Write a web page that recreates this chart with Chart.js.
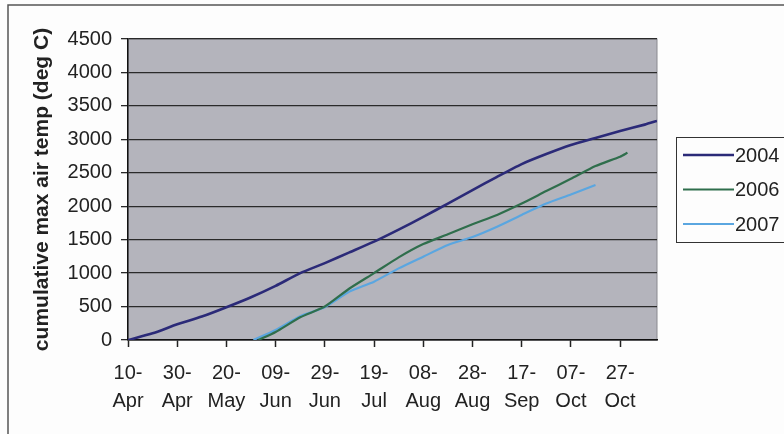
<!DOCTYPE html>
<html>
<head>
<meta charset="utf-8">
<script src="https://cdn.jsdelivr.net/npm/chart.js@4"></script>
<style>
  html, body { margin: 0; padding: 0; background: #fdfdfd; }
  #wrap { position: relative; width: 784px; height: 434px; }
</style>
</head>
<body>
<div id="wrap"><canvas id="gddChart" width="784" height="434"></canvas></div>
<script>
  // days counted from 10 April
  const tickLabels = [['10-', 'Apr'], ['30-', 'Apr'], ['20-', 'May'], ['09-', 'Jun'], ['29-', 'Jun'], ['19-', 'Jul'],
    ['08-', 'Aug'], ['28-', 'Aug'], ['17-', 'Sep'], ['07-', 'Oct'], ['27-', 'Oct']];

  const days2004 = [0, 10, 20, 30, 40, 50, 60, 70, 80, 90, 100, 110, 120, 130, 140, 150, 160, 170, 180, 190, 200, 210, 215];
  const temp2004 = [0, 100, 234, 350, 490, 640, 810, 1000, 1150, 1310, 1470, 1650, 1840, 2040, 2240, 2440, 2630, 2780, 2915, 3020, 3124, 3220, 3275];

  const days2006 = [53, 60, 70, 80, 90, 100, 110, 120, 130, 140, 150, 160, 170, 180, 190, 200, 203];
  const temp2006 = [0, 120, 340, 500, 770, 1000, 1236, 1435, 1580, 1730, 1870, 2040, 2227, 2410, 2600, 2741, 2800];

  const days2007 = [51, 60, 70, 80, 90, 100, 110, 120, 130, 140, 150, 160, 170, 180, 190];
  const temp2007 = [0, 150, 355, 490, 723, 872, 1071, 1246, 1420, 1540, 1694, 1870, 2040, 2175, 2317];

  const seriesNames = ['2004', '2006', '2007'];
  const seriesColors = ['#2b2a78', '#2f6e4c', '#5aa6e0'];

  const FONT = '"Liberation Sans", Arial, sans-serif';

  function toPoints(days, vals) {
    return days.map((d, i) => ({ x: d, y: vals[i] }));
  }

  const paperBits = {
    id: 'paperBits',
    beforeDraw(chart) {
      const ctx = chart.ctx;
      const a = chart.chartArea;
      ctx.save();
      // figure frame (scan edge)
      ctx.strokeStyle = '#555';
      ctx.lineWidth = 1.5;
      ctx.beginPath();
      ctx.moveTo(8, 434);
      ctx.lineTo(8, 5);
      ctx.lineTo(784, 5);
      ctx.stroke();
      // grey plot area
      ctx.fillStyle = '#b4b4bc';
      ctx.fillRect(a.left, a.top, a.right - a.left, a.bottom - a.top);
      ctx.strokeStyle = '#8a8a90';
      ctx.lineWidth = 1;
      ctx.strokeRect(a.left, a.top, a.right - a.left, a.bottom - a.top);
      ctx.restore();
    },
    afterDraw(chart) {
      const ctx = chart.ctx;
      ctx.save();
      ctx.strokeStyle = '#333';
      ctx.lineWidth = 1;
      ctx.strokeRect(676.5, 137.5, 130, 105);
      ctx.font = '20px ' + FONT;
      ctx.textBaseline = 'middle';
      chart.data.datasets.forEach((ds, i) => {
        const y = 155 + i * 34.5;
        ctx.strokeStyle = ds.borderColor;
        ctx.lineWidth = ds.borderWidth;
        ctx.beginPath();
        ctx.moveTo(683, y);
        ctx.lineTo(734, y);
        ctx.stroke();
        ctx.fillStyle = '#222';
        ctx.fillText(ds.label, 735, y + 1);
      });
      ctx.restore();
    }
  };

  const ctx = document.getElementById('gddChart').getContext('2d');
  new Chart(ctx, {
    type: 'line',
    data: {
      datasets: [
        { label: seriesNames[0], data: toPoints(days2004, temp2004), borderColor: seriesColors[0], borderWidth: 2.6 },
        { label: seriesNames[1], data: toPoints(days2006, temp2006), borderColor: seriesColors[1], borderWidth: 2.2 },
        { label: seriesNames[2], data: toPoints(days2007, temp2007), borderColor: seriesColors[2], borderWidth: 2.2 }
      ]
    },
    options: {
      responsive: false,
      animation: false,
      events: [],
      elements: { point: { radius: 0 }, line: { tension: 0.2 } },
      layout: { padding: { left: 0, top: 39, right: 127, bottom: 0 } },
      plugins: { legend: { display: false }, tooltip: { enabled: false } },
      scales: {
        x: {
          type: 'linear',
          min: 0,
          max: 215,
          afterFit: s => { s.height = 94; },
          afterBuildTicks: s => { s.ticks = tickLabels.map((t, i) => ({ value: i * 20 })); },
          grid: { drawOnChartArea: false, color: '#222', tickLength: 7, tickWidth: 1.5 },
          border: { color: '#111', width: 1.5 },
          ticks: {
            autoSkip: false,
            maxRotation: 0,
            padding: 12,
            color: '#222',
            font: { family: FONT, size: 20, lineHeight: 1.4 },
            callback: (v, i) => tickLabels[i]
          }
        },
        y: {
          min: 0,
          max: 4500,
          afterFit: s => { s.width = 128; },
          grid: { color: '#2a2a2a', lineWidth: 1.3, tickLength: 7 },
          border: { color: '#111', width: 1.5 },
          ticks: {
            stepSize: 500,
            padding: 9,
            color: '#222',
            font: { family: FONT, size: 20 },
            callback: v => String(v)
          }
        ,
          title: {
            display: true,
            text: 'cumulative max air temp (deg C)',
            color: '#222',
            padding: { top: 30, bottom: 0 },
            font: { family: FONT, size: 21, weight: 'bold' }
          }
        }
      }
    },
    plugins: [paperBits]
  });
</script>
</body>
</html>
